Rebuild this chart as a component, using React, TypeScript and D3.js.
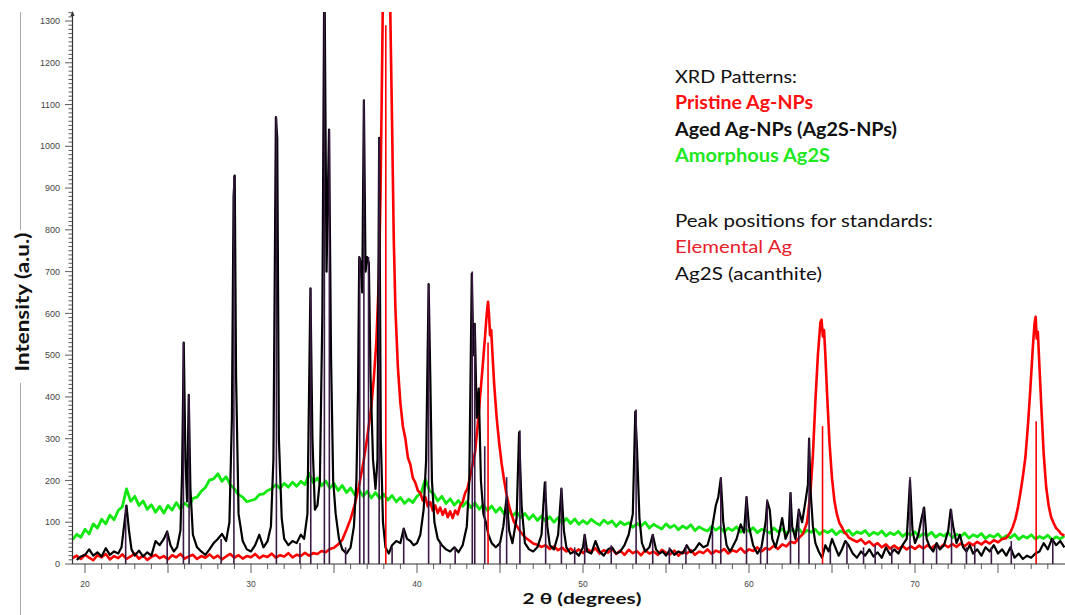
import React from 'react';
import * as d3 from 'd3';

type P = [number, number];

const X_LABELS = [20, 30, 40, 50, 60, 70];
const Y_LABELS = [0, 100, 200, 300, 400, 500, 600, 700, 800, 900, 1000, 1100, 1200, 1300];

const legendTitle1 = 'XRD Patterns:';
const legendSeries = ['Pristine Ag-NPs', 'Aged Ag-NPs (Ag2S-NPs)', 'Amorphous Ag2S'];
const legendTitle2 = 'Peak positions for standards:';
const legendStandards = ['Elemental Ag', 'Ag2S (acanthite)'];

// Amorphous Ag2S (green)
const amorphous: P[] = [
  [19.25,58],[19.5,71],[19.75,64],[20,83],[20.25,72],[20.5,96],[20.75,86],[21,107],[21.25,96],[21.5,117],
  [21.75,106],[22,128],[22.25,137],[22.5,180],[22.75,150],[23,162],[23.25,140],[23.5,151],[23.75,131],[24,142],
  [24.25,124],[24.5,138],[24.75,122],[25,140],[25.25,129],[25.5,147],[25.75,132],[26,146],[26.25,137],[26.5,157],
  [26.75,160],[27,174],[27.25,183],[27.5,201],[27.75,204],[28,216],[28.25,198],[28.5,209],[28.75,190],[29,180],
  [29.25,166],[29.5,160],[29.75,149],[30,152],[30.25,155],[30.5,166],[30.75,168],[31,176],[31.25,180],[31.5,190],
  [31.75,181],[32,193],[32.25,184],[32.5,196],[32.75,186],[33,198],[33.25,190],[33.5,217],[33.75,195],[34,206],
  [34.25,187],[34.5,199],[34.75,182],[35,193],[35.25,176],[35.5,188],[35.75,171],[36,182],[36.25,166],[36.5,178],
  [36.75,162],[37,174],[37.25,158],[37.5,171],[37.75,157],[38,167],[38.25,153],[38.5,164],[38.75,149],[39,159],
  [39.25,145],[39.5,155],[39.75,147],[40,162],[40.25,170],[40.5,203],[40.75,176],[41,168],[41.25,151],[41.5,162],
  [41.75,145],[42,156],[42.25,141],[42.5,152],[42.75,138],[43,149],[43.25,135],[43.5,146],[43.75,131],[44,142],
  [44.25,128],[44.5,139],[44.75,124],[45,135],[45.25,120],[45.5,130],[45.75,115],[46,125],[46.25,111],[46.5,121],
  [46.75,107],[47,118],[47.25,104],[47.5,115],[47.75,102],[48,113],[48.25,100],[48.5,111],[48.75,98],[49,109],
  [49.25,97],[49.5,108],[49.75,95],[50,104],[50.25,96],[50.5,107],[50.75,99],[51,93],[51.25,105],[51.5,97],
  [51.75,103],[52,90],[52.25,101],[52.5,94],[52.75,99],[53,88],[53.25,97],[53.5,91],[53.75,100],[54,86],
  [54.25,95],[54.5,89],[54.75,84],[55,96],[55.25,87],[55.5,93],[55.75,82],[56,91],[56.25,85],[56.5,94],
  [56.75,80],[57,89],[57.25,83],[57.5,79],[57.75,90],[58,81],[58.25,88],[58.5,77],[58.75,86],[59,80],
  [59.25,89],[59.5,76],[59.75,84],[60,78],[60.25,87],[60.5,75],[60.75,83],[61,80],[61.25,74],[61.5,86],
  [61.75,77],[62,84],[62.25,73],[62.5,82],[62.75,78],[63,85],[63.25,72],[63.5,81],[63.75,76],[64,83],
  [64.25,71],[64.5,80],[64.75,75],[65,82],[65.25,70],[65.5,79],[65.75,74],[66,81],[66.25,69],[66.5,77],
  [66.75,73],[67,80],[67.25,68],[67.5,76],[67.75,71],[68,79],[68.25,67],[68.5,75],[68.75,70],[69,78],
  [69.25,66],[69.5,74],[69.75,69],[70,77],[70.25,65],[70.5,73],[70.75,68],[71,76],[71.25,64],[71.5,72],
  [71.75,67],[72,75],[72.25,63],[72.5,71],[72.75,66],[73,74],[73.25,62],[73.5,70],[73.75,65],[74,73],
  [74.25,61],[74.5,69],[74.75,64],[75,72],[75.25,60],[75.5,68],[75.75,63],[76,71],[76.25,59],[76.5,67],
  [76.75,62],[77,70],[77.25,60],[77.5,66],[77.75,61],[78,69],[78.25,58],[78.5,65],[78.75,60],[79,67],
];

// Pristine Ag-NPs (red)
const pristine: P[] = [
  [19.25,14],[19.5,20],[19.75,12],[20,22],[20.25,15],[20.5,9],[20.75,21],[21,16],[21.25,24],[21.5,11],
  [21.75,19],[22,14],[22.25,23],[22.5,12],[22.75,18],[23,25],[23.25,13],[23.5,20],[23.75,10],[24,17],
  [24.25,22],[24.5,14],[24.75,19],[25,11],[25.25,21],[25.5,16],[25.75,24],[26,13],[26.25,18],[26.5,22],
  [26.75,12],[27,19],[27.25,15],[27.5,23],[27.75,14],[28,20],[28.25,11],[28.5,18],[28.75,24],[29,15],
  [29.25,21],[29.5,13],[29.75,19],[30,16],[30.25,24],[30.5,14],[30.75,20],[31,17],[31.25,25],[31.5,15],
  [31.75,21],[32,18],[32.25,26],[32.5,16],[32.75,22],[33,19],[33.25,27],[33.5,20],[33.75,26],[34,24],
  [34.25,31],[34.5,28],[34.75,36],[35,39],[35.25,47],[35.5,58],[35.75,82],[36,108],[36.25,142],[36.5,186],
  [36.75,238],[37,302],[37.25,378],[37.4,445],[37.55,530],[37.7,680],[37.8,880],[37.9,1200],[38,1550],[38.15,1800],
  [38.3,1600],[38.4,1300],[38.5,1050],[38.6,780],[38.7,610],[38.85,470],[39,385],[39.15,330],[39.3,300],[39.45,255],
  [39.6,238],[39.75,206],[39.9,195],[40.05,176],[40.2,170],[40.35,152],[40.5,160],[40.65,138],[40.8,148],[40.95,128],
  [41.1,140],[41.25,122],[41.4,135],[41.55,118],[41.7,131],[41.85,112],[42,126],[42.15,110],[42.3,128],[42.45,119],
  [42.6,140],[42.75,148],[42.9,170],[43.05,182],[43.2,210],[43.35,238],[43.5,268],[43.65,330],[43.8,400],[43.95,470],
  [44.1,545],[44.2,598],[44.28,628],[44.35,590],[44.4,548],[44.47,560],[44.55,500],[44.65,430],[44.8,350],[44.95,290],
  [45.1,240],[45.25,200],[45.4,165],[45.55,138],[45.7,118],[45.85,100],[46,92],[46.25,76],[46.5,64],[46.75,57],
  [47,49],[47.25,46],[47.5,41],[47.75,45],[48,36],[48.25,42],[48.5,33],[48.75,39],[49,30],[49.25,37],
  [49.5,28],[49.75,35],[50,26],[50.25,36],[50.5,29],[50.75,38],[51,25],[51.25,33],[51.5,27],[51.75,36],
  [52,24],[52.25,32],[52.5,22],[52.75,34],[53,26],[53.25,31],[53.5,21],[53.75,33],[54,25],[54.25,30],
  [54.5,22],[54.75,34],[55,27],[55.25,23],[55.5,32],[55.75,20],[56,29],[56.25,25],[56.5,33],[56.75,22],
  [57,30],[57.25,26],[57.5,35],[57.75,24],[58,32],[58.25,28],[58.5,36],[58.75,25],[59,33],[59.25,29],
  [59.5,38],[59.75,27],[60,35],[60.25,31],[60.5,40],[60.75,30],[61,38],[61.25,35],[61.5,44],[61.75,36],
  [62,47],[62.25,42],[62.5,53],[62.75,50],[63,62],[63.25,72],[63.5,100],[63.7,170],[63.85,260],[64,390],
  [64.15,500],[64.3,578],[64.37,585],[64.45,545],[64.52,560],[64.6,500],[64.7,410],[64.85,290],[65,205],[65.15,150],
  [65.3,118],[65.45,98],[65.6,88],[65.75,76],[65.9,70],[66,64],[66.25,58],[66.5,53],[66.75,59],[67,48],
  [67.25,54],[67.5,44],[67.75,50],[68,40],[68.25,47],[68.5,37],[68.75,44],[69,36],[69.25,43],[69.5,35],
  [69.75,42],[70,36],[70.25,44],[70.5,37],[70.75,45],[71,38],[71.25,46],[71.5,39],[71.75,47],[72,40],
  [72.25,48],[72.5,41],[72.75,49],[73,43],[73.25,51],[73.5,45],[73.75,53],[74,47],[74.25,55],[74.5,49],
  [74.75,57],[75,52],[75.25,60],[75.5,62],[75.75,76],[75.9,90],[76.05,108],[76.2,135],[76.35,170],[76.5,210],
  [76.65,255],[76.8,330],[76.95,420],[77.1,520],[77.2,575],[77.27,592],[77.33,540],[77.4,556],[77.5,470],[77.6,385],
  [77.75,265],[77.9,185],[78.05,140],[78.2,112],[78.35,98],[78.5,86],[78.65,80],[78.8,72],[79,68],
];

// Aged Ag-NPs (black)
const aged: P[] = [
  [19.5,10],[19.75,18],[20,22],[20.25,35],[20.5,20],[20.75,28],[21,18],[21.25,38],[21.5,22],[21.75,30],
  [22,25],[22.2,40],[22.35,90],[22.5,140],[22.65,80],[22.8,35],[23,20],[23.25,32],[23.5,18],[23.75,28],
  [24,20],[24.25,55],[24.5,45],[24.75,60],[24.95,78],[25.15,45],[25.35,30],[25.55,40],[25.75,80],[25.85,220],
  [25.95,530],[26.05,250],[26.15,150],[26.25,405],[26.35,180],[26.5,70],[26.75,40],[27,30],[27.25,22],[27.5,35],
  [27.75,50],[28,60],[28.25,72],[28.5,55],[28.7,100],[28.85,350],[28.95,880],[29.02,930],[29.1,450],[29.25,120],
  [29.5,55],[29.75,35],[30,30],[30.25,45],[30.5,70],[30.75,40],[31,55],[31.2,90],[31.35,250],[31.5,1070],
  [31.58,1020],[31.68,300],[31.85,110],[32,60],[32.25,45],[32.5,55],[32.75,50],[33,70],[33.2,60],[33.4,120],
  [33.58,660],[33.7,300],[33.85,130],[34,140],[34.15,200],[34.3,600],[34.42,1450],[34.55,700],[34.7,1040],[34.82,500],
  [34.95,200],[35.1,120],[35.3,60],[35.5,35],[35.75,25],[36,40],[36.2,90],[36.35,200],[36.45,420],[36.52,735],
  [36.62,720],[36.7,650],[36.8,1110],[36.9,700],[37,735],[37.1,720],[37.2,450],[37.35,250],[37.5,180],[37.62,250],
  [37.72,1020],[37.82,300],[37.95,100],[38.1,40],[38.3,25],[38.5,45],[38.75,55],[39,50],[39.2,85],[39.4,60],
  [39.6,55],[39.8,45],[40,50],[40.2,70],[40.4,130],[40.55,250],[40.7,670],[40.8,450],[40.9,200],[41.05,100],
  [41.25,60],[41.5,45],[41.75,35],[42,30],[42.25,40],[42.5,28],[42.75,45],[43,90],[43.15,200],[43.3,695],
  [43.4,500],[43.48,575],[43.6,350],[43.72,420],[43.85,200],[44,120],[44.15,100],[44.3,70],[44.5,50],[44.75,40],
  [45,50],[45.2,90],[45.4,160],[45.55,80],[45.75,50],[46,110],[46.15,315],[46.3,140],[46.5,50],[46.75,35],
  [47,30],[47.25,40],[47.5,70],[47.7,195],[47.85,90],[48,45],[48.25,35],[48.5,70],[48.7,180],[48.85,80],
  [49,40],[49.25,25],[49.5,30],[49.75,20],[50,40],[50.1,70],[50.25,30],[50.5,25],[50.75,55],[51,30],
  [51.25,20],[51.5,35],[51.75,40],[52,25],[52.25,30],[52.5,45],[52.75,70],[53,120],[53.15,365],[53.25,280],
  [53.4,110],[53.55,50],[53.75,30],[54,40],[54.2,70],[54.4,35],[54.6,25],[54.8,30],[55,20],[55.25,35],
  [55.5,22],[55.75,30],[56,25],[56.25,45],[56.5,28],[56.75,35],[57,50],[57.25,40],[57.5,45],[57.75,80],
  [58,140],[58.15,160],[58.3,205],[58.45,100],[58.65,45],[58.85,30],[59,40],[59.25,60],[59.5,95],[59.7,75],
  [59.85,160],[60,90],[60.25,45],[60.5,25],[60.75,40],[61,100],[61.1,150],[61.25,130],[61.4,60],[61.6,40],
  [61.8,70],[62,110],[62.2,60],[62.4,80],[62.5,170],[62.6,90],[62.8,60],[63,130],[63.2,100],[63.4,150],
  [63.55,190],[63.62,300],[63.7,180],[63.85,90],[64,50],[64.2,30],[64.4,15],[64.6,45],[64.8,30],[65,60],
  [65.2,40],[65.4,20],[65.6,35],[65.8,55],[66,45],[66.25,25],[66.5,15],[66.75,30],[67,20],[67.25,35],
  [67.5,18],[67.75,28],[68,15],[68.25,40],[68.5,22],[68.75,35],[69,25],[69.25,45],[69.5,60],[69.7,200],
  [69.85,80],[70,50],[70.2,70],[70.4,110],[70.55,135],[70.7,60],[70.9,40],[71.1,30],[71.3,50],[71.5,35],
  [71.75,45],[72,80],[72.15,130],[72.3,90],[72.5,50],[72.7,70],[72.9,40],[73.1,30],[73.3,45],[73.5,25],
  [73.75,35],[74,20],[74.25,40],[74.5,30],[74.75,45],[75,25],[75.25,35],[75.5,20],[75.75,40],[76,15],
  [76.25,25],[76.5,12],[76.75,20],[77,15],[77.25,25],[77.5,30],[77.75,50],[78,35],[78.25,60],[78.5,45],
  [78.75,55],[79,40],
];

// Standard peak positions
const acanthitePeaks: P[] = [
  [22.45,140],[24.95,78],[25.93,530],[26.27,405],[28.2,60],[28.97,930],[31.53,1070],[32.95,50],[33.6,660],
  [34.42,1450],[34.72,1040],[35.7,40],[36.55,735],[36.8,1110],[37.08,735],[37.72,1020],[38.5,40],[39.2,85],
  [40.7,670],[41.4,50],[42.3,40],[43.33,700],[43.48,575],[44.08,282],[45.0,50],[45.4,208],[46.2,320],
  [47.75,198],[48.7,183],[49.5,40],[50.1,71],[51.7,45],[53.2,370],[54.2,71],[55.2,40],[56.2,45],[57.8,80],
  [58.3,208],[59.85,162],[60.7,40],[61.1,155],[62.5,172],[63.0,130],[63.62,300],[64.9,40],[65.9,50],[66.9,40],
  [67.6,45],[68.6,40],[69.7,208],[70.5,135],[71.3,45],[72.2,130],[73.1,40],[73.6,45],[74.6,40],[75.8,55],[78.3,60],
];
const silverPeaks: P[] = [[38.12,1290],[44.28,530],[64.43,330],[77.3,342]];

const W = 1065;
const H = 615;

export default function App() {
  const x = d3.scaleLinear().domain([20, 70]).range([85, 915]);
  const y = d3.scaleLinear().domain([0, 1300]).range([564, 21]);
  const line = d3.line<P>().x(d => x(d[0])).y(d => y(d[1]));
  const axisColor = '#333';
  const xMinor = d3.range(20, 79, 1);
  const yMinor = d3.range(0, 1321, 10);
  const legendFont = 'Lato, "Open Sans", sans-serif';

  return (
    <svg width={W} height={H} style={{ position: 'absolute', left: 0, top: 0, background: '#fff' }}
      xmlns="http://www.w3.org/2000/svg">
      <defs>
        <clipPath id="plot">
          <rect x={73} y={12} width={W - 73} height={564 - 12 + 1} />
        </clipPath>
      </defs>
      <rect x={0} y={0} width={W} height={H} fill="#fff" />

      {/* left gray rule */}
      <line x1={20.5} x2={20.5} y1={12} y2={230} stroke="#aaa" strokeWidth={1} />
      <line x1={20.5} x2={20.5} y1={383} y2={615} stroke="#aaa" strokeWidth={1} />

      <g clipPath="url(#plot)" fill="none" strokeLinejoin="round">
        <path d={line(amorphous) || ''} stroke="#10e810" strokeWidth={2.8} />
        <path d={line(pristine) || ''} stroke="#ff0000" strokeWidth={2.6} />
        <path d={line(aged) || ''} stroke="#000" strokeWidth={2.2} />
        {acanthitePeaks.map((p, i) => (
          <line key={'a' + i} x1={x(p[0])} x2={x(p[0])} y1={y(0)} y2={y(p[1])} stroke="#3b1a45" strokeWidth={1.6} />
        ))}
        {silverPeaks.map((p, i) => (
          <line key={'s' + i} x1={x(p[0])} x2={x(p[0])} y1={y(0)} y2={y(p[1])} stroke="#ff0000" strokeWidth={1.6} />
        ))}
      </g>

      {/* Y axis */}
      <line x1={72.5} x2={72.5} y1={y(0)} y2={12} stroke={axisColor} strokeWidth={1.2} />
      <path d={`M70.5,16 L72.5,11 L74.5,16 Z`} fill={axisColor} />
      {yMinor.map(v => (
        <line key={'ym' + v} x1={v % 100 === 0 ? 65 : 68.5} x2={72.5} y1={y(v)} y2={y(v)} stroke={axisColor} strokeWidth={0.8} />
      ))}
      {Y_LABELS.map(v => (
        <text key={'yl' + v} x={60} y={y(v)} dy="0.35em" textAnchor="end" fontSize={9}
          fontFamily='"Liberation Sans", Arial, sans-serif' fill="#444">{v}</text>
      ))}

      {/* X axis */}
      <line x1={72.5} x2={W} y1={y(0)} y2={y(0)} stroke={axisColor} strokeWidth={1.2} />
      {xMinor.map(v => (
        <line key={'xm' + v} x1={x(v)} x2={x(v)} y1={y(0)} y2={y(0) + (v % 5 === 0 ? 9 : 5)} stroke={axisColor} strokeWidth={0.8} />
      ))}
      {X_LABELS.map(v => (
        <text key={'xl' + v} x={x(v)} y={587} textAnchor="middle" fontSize={8.5}
          fontFamily='"Liberation Sans", Arial, sans-serif' fill="#444">{v}</text>
      ))}

      {/* Axis titles */}
      <text x={582} y={604} textAnchor="middle" fontSize={16} fontWeight="bold" fontFamily={legendFont}
        fill="#111" textLength={119} lengthAdjust="spacingAndGlyphs">2 θ (degrees)</text>
      <text transform="translate(29,302) rotate(-90)" textAnchor="middle" fontSize={18} fontWeight="bold"
        fontFamily={legendFont} fill="#111" textLength={139} lengthAdjust="spacingAndGlyphs">Intensity (a.u.)</text>

      {/* Legend text */}
      <g fontFamily={legendFont} fontSize={18}>
        <text x={675} y={83} fill="#111" textLength={122} lengthAdjust="spacingAndGlyphs">{legendTitle1}</text>
        <text x={675} y={109} fill="#ff1010" fontWeight="bold" textLength={138} lengthAdjust="spacingAndGlyphs">{legendSeries[0]}</text>
        <text x={675} y={136} fill="#111" fontWeight="bold" textLength={222} lengthAdjust="spacingAndGlyphs">{legendSeries[1]}</text>
        <text x={675} y={162} fill="#1ee81e" fontWeight="bold" textLength={155} lengthAdjust="spacingAndGlyphs">{legendSeries[2]}</text>
        <text x={675} y={227} fill="#111" textLength={258} lengthAdjust="spacingAndGlyphs">{legendTitle2}</text>
        <text x={675} y={253} fill="#e8202a" textLength={117} lengthAdjust="spacingAndGlyphs">{legendStandards[0]}</text>
        <text x={675} y={280} fill="#111" textLength={147} lengthAdjust="spacingAndGlyphs">{legendStandards[1]}</text>
      </g>
    </svg>
  );
}
